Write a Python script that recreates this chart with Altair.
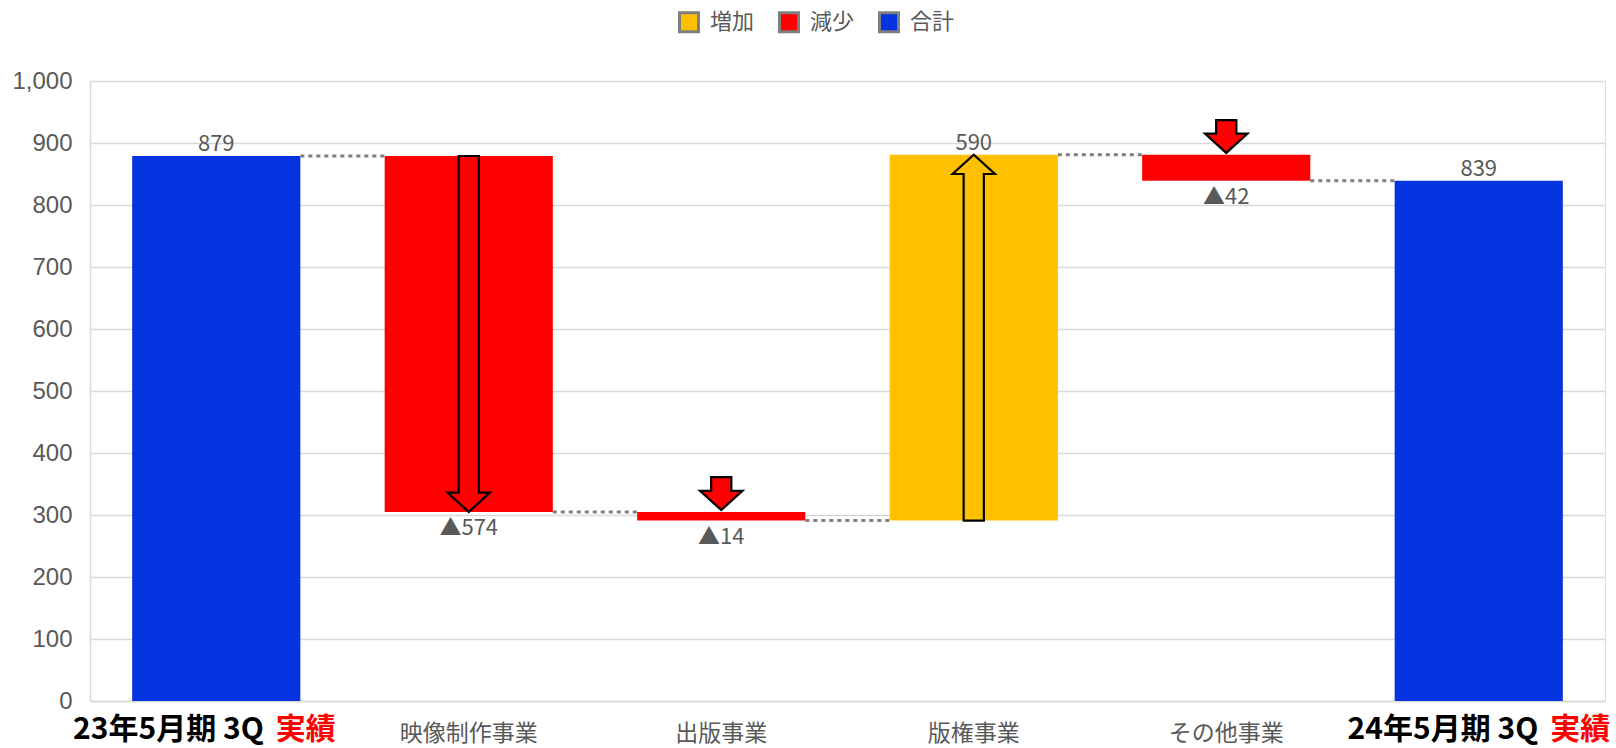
import altair as alt
import pandas as pd

# ---------------- data ----------------
categories = ["23年5月期 3Q 実績", "映像制作事業", "出版事業", "版権事業", "その他事業", "24年5月期 3Q 実績"]
values = [879, -574, -14, 590, -42, 839]
kinds = ["合計", "減少", "減少", "増加", "減少", "合計"]
value_labels = ["879", "▲574", "▲14", "590", "▲42", "839"]
legend_order = ["増加", "減少", "合計"]
legend_colors = ["#FFC000", "#FF0000", "#0433DF"]
y_ticks = [0, 100, 200, 300, 400, 500, 600, 700, 800, 900, 1000]

# ---------------- geometry / style constants ----------------
W, H = 1515, 620
BAR_HALF = 0.333          # half bar width in category units
SHAFT_HALF = 0.040        # arrow shaft half width (category units)
HEAD_HALF = 0.084         # arrow head half width (category units)
HEAD_LEN = 31             # arrow head length (value units)
SMALL_LEN = 53            # total length of small arrows (value units)
SMALL_GAP = 3             # gap between small arrow tip and bar
EPS = 0.01                # keeps the two head-start points in a fixed path order
BIG_THRESHOLD = 100
GRAY = "#595959"
NUM_FONT = "Liberation Sans"
JP_FONT = "Noto Sans CJK JP"

# ---------------- derived tables ----------------
rows = []
running = 0
for i, (c, v, k, lab) in enumerate(zip(categories, values, kinds, value_labels)):
    if k == "合計":
        start, end = 0, v
    else:
        start, end = running, running + v
    running = end
    rows.append(dict(i=i, cat=c, kind=k, label=lab, lo=min(start, end), hi=max(start, end),
                     end=end, value=v, below=(k == "減少")))
bars = pd.DataFrame(rows)

conn = pd.DataFrame([dict(i=r["i"], lvl=r["end"]) for r in rows[:-1]])

arrow_pts = []
for r in rows:
    if r["kind"] == "合計":
        continue
    c = r["i"]
    if abs(r["value"]) >= BIG_THRESHOLD:
        if r["value"] < 0:
            tail, tip = r["hi"], r["lo"]
        else:
            tail, tip = r["lo"], r["hi"]
    else:
        if r["value"] < 0:
            tip = r["hi"] + SMALL_GAP
            tail = tip + SMALL_LEN
        else:
            tip = r["lo"] - SMALL_GAP
            tail = tip - SMALL_LEN
    d = 1 if tip > tail else -1
    hs = tip - d * HEAD_LEN
    pts = [(tail, c - SHAFT_HALF, c + SHAFT_HALF),
           (hs - d * EPS, c - SHAFT_HALF, c + SHAFT_HALF),
           (hs, c - HEAD_HALF, c + HEAD_HALF),
           (tip, c, c)]
    if d > 0:
        pts = pts[::-1]
    for yy, xa, xb in pts:
        arrow_pts.append(dict(aid=c, ay=yy, ax=xa, ax2=xb, kind=r["kind"]))
arrows = pd.DataFrame(arrow_pts)

xscale = alt.Scale(domain=[-0.5, len(categories) - 0.5], nice=False, zero=False)
yscale = alt.Scale(domain=[0, 1000], nice=False)
cscale = alt.Scale(domain=legend_order, range=legend_colors)

x_axis = alt.Axis(title=None, labels=False, ticks=False, grid=False, domain=True,
                  domainColor="#d9d9d9", domainWidth=1.5)
y_axis = alt.Axis(title=None, values=y_ticks, labelExpr="format(datum.value, ',')",
                  ticks=False, labelPadding=18,
                  labelFont=NUM_FONT, labelFontSize=24, labelColor=GRAY,
                  grid=True, gridColor="#d9d9d9", gridWidth=1.3,
                  domain=True, domainColor="#d9d9d9", domainWidth=1.5)

base = alt.Chart(bars)

bar_layer = base.mark_rect().transform_calculate(
    xl=f"datum.i - {BAR_HALF}", xr=f"datum.i + {BAR_HALF}"
).encode(
    x=alt.X("xl:Q", scale=xscale, axis=x_axis),
    x2="xr:Q",
    y=alt.Y("lo:Q", scale=yscale, axis=y_axis),
    y2="hi:Q",
    color=alt.Color("kind:N", scale=cscale, legend=alt.Legend(
        title=None, orient="none", legendX=588, legendY=-70, direction="horizontal",
        symbolType="square", symbolSize=361, symbolStrokeColor="#7f7f7f",
        symbolStrokeWidth=3, labelFont=JP_FONT, labelFontSize=22, labelColor=GRAY,
        labelOffset=10, columnPadding=18)),
)

conn_layer = alt.Chart(conn).mark_rule(
    color="#7f7f7f", strokeWidth=3, strokeDash=[4, 4]
).transform_calculate(
    xa=f"datum.i + {BAR_HALF}", xb=f"datum.i + 1 - {BAR_HALF}"
).encode(
    x=alt.X("xa:Q", scale=xscale),
    x2="xb:Q",
    y=alt.Y("lvl:Q", scale=yscale),
)

arrow_layer = alt.Chart(arrows).mark_area(
    orient="horizontal", stroke="black", strokeWidth=2.2, strokeJoin="miter", opacity=1
).encode(
    y=alt.Y("ay:Q", scale=yscale, stack=None),
    x=alt.X("ax:Q", scale=xscale, stack=None),
    x2="ax2:Q",
    fill=alt.Fill("kind:N", scale=alt.Scale(domain=legend_order, range=legend_colors), legend=None),
    detail="aid:N",
)

lab_above = base.transform_filter("!datum.below").mark_text(
    font=JP_FONT, fontSize=22, color=GRAY, baseline="alphabetic", dy=-5
).encode(x=alt.X("i:Q", scale=xscale), y=alt.Y("hi:Q", scale=yscale), text="label:N")

lab_below = base.transform_filter("datum.below").mark_text(
    font=JP_FONT, fontSize=22, color=GRAY, baseline="alphabetic", dy=23
).encode(x=alt.X("i:Q", scale=xscale), y=alt.Y("lo:Q", scale=yscale), text="label:N")

cat_layer = base.transform_filter("datum.kind != '合計'").mark_text(
    font=JP_FONT, fontSize=23, color=GRAY, baseline="alphabetic"
).encode(x=alt.X("i:Q", scale=xscale), y=alt.value(660), text="cat:N")

bold_layers = []
for idx, shift in [(0, -11), (len(categories) - 1, 1)]:
    sub = base.transform_filter(f"datum.i == {idx}").transform_calculate(
        head="slice(datum.cat, 0, lastindexof(datum.cat, ' '))",
        tail="slice(datum.cat, lastindexof(datum.cat, ' ') + 1)",
    )
    bold_layers.append(sub.mark_text(
        font=JP_FONT, fontSize=30, fontWeight="bold", color="black",
        align="right", baseline="alphabetic", dx=shift + 58.5
    ).encode(x=alt.X("i:Q", scale=xscale), y=alt.value(658), text="head:N"))
    bold_layers.append(sub.mark_text(
        font=JP_FONT, fontSize=30, fontWeight="bold", color="#FF0000",
        align="left", baseline="alphabetic", dx=shift + 70.5
    ).encode(x=alt.X("i:Q", scale=xscale), y=alt.value(658), text="tail:N"))

chart = alt.layer(
    bar_layer, conn_layer, arrow_layer, lab_above, lab_below, cat_layer, *bold_layers
).properties(
    width=W, height=H,
    padding={"left": 90, "top": 81, "right": 11, "bottom": 47},
    autosize=alt.AutoSizeParams(type="none"),
).configure_view(stroke=None).configure(background="white")

chart.save("out.html", embed_options={"renderer": "svg", "actions": False})
